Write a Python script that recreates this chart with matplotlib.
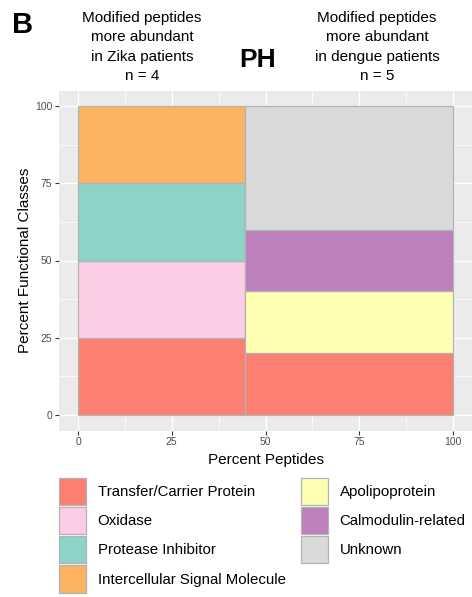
import numpy as np
import matplotlib
matplotlib.use("Agg")
import matplotlib.pyplot as plt
from matplotlib.patches import Patch

plt.rcParams['font.family'] = ['Liberation Sans', 'DejaVu Sans']

# functional classes, in stacking / legend order
classes = ["Transfer/Carrier Protein", "Oxidase", "Protease Inhibitor",
           "Intercellular Signal Molecule", "Apolipoprotein",
           "Calmodulin-related", "Unknown"]
class_colors = ["#FB8072", "#FCCDE5", "#8DD3C7", "#FDB462",
                "#FFFFB3", "#BC80BD", "#D9D9D9"]

# peptide counts per class in each group
zika_counts = [1, 1, 1, 1, 0, 0, 0]
dengue_counts = [1, 0, 0, 0, 1, 1, 2]
group_n = [4, 5]
group_titles = ["Modified peptides\nmore abundant\nin Zika patients\nn = 4",
                "Modified peptides\nmore abundant\nin dengue patients\nn = 5"]

fig = plt.figure(figsize=(4.72, 5.97), dpi=100)
ax = fig.add_axes([59.25/472, 1-430.5/597, (471.75-59.25)/472, (430.5-90.5)/597])

ax.set_facecolor("#EBEBEB")
for s in ax.spines.values():
    s.set_visible(False)

# mosaic: column width is share of peptides, stacked height is share of classes
widths = np.array(group_n) / sum(group_n) * 100
lefts = np.concatenate([[0], np.cumsum(widths)[:-1]])
for g, counts in enumerate([zika_counts, dengue_counts]):
    pct = np.array(counts) / sum(counts) * 100
    bottom = 0
    for c, p in enumerate(pct):
        if p == 0:
            continue
        ax.bar(lefts[g], p, width=widths[g], bottom=bottom, align='edge',
               color=class_colors[c], edgecolor="#B3B3B3", linewidth=0.9, zorder=3)
        bottom += p

ax.set_xlim(-5, 105)
ax.set_ylim(-5, 105)
ticks = [0, 25, 50, 75, 100]
ax.set_xticks(ticks)
ax.set_yticks(ticks)
ax.set_xticks([12.5, 37.5, 62.5, 87.5], minor=True)
ax.set_yticks([12.5, 37.5, 62.5, 87.5], minor=True)
ax.grid(which='major', color='white', linewidth=1.0, zorder=0)
ax.grid(which='minor', color='white', linewidth=0.5, zorder=0)
ax.tick_params(which='major', length=3, width=0.8, color='#333333',
               labelsize=7.5, labelcolor='#4D4D4D', pad=2)
ax.tick_params(which='minor', length=0)
ax.set_axisbelow(True)

ax.set_xlabel("Percent Peptides", fontsize=11, labelpad=4)
ax.set_ylabel("Percent Functional Classes", fontsize=11, labelpad=2)

# header texts
fig.text(12/472, 1-25/597, "B", fontsize=21, fontweight='bold', ha='left', va='center')
fig.text(258/472, 1-60/597, "PH", fontsize=19, fontweight='bold', ha='center', va='center')
fig.text(142/472, 1-47/597, group_titles[0], fontsize=11, ha='center', va='center',
         multialignment='center', linespacing=1.47)
fig.text(377/472, 1-47/597, group_titles[1], fontsize=11, ha='center', va='center',
         multialignment='center', linespacing=1.47)

handles = [Patch(facecolor=col, edgecolor="#B3B3B3", linewidth=0.9) for col in class_colors]
fig.legend(handles, classes, ncol=2, loc='upper left',
           bbox_to_anchor=(58.5/472, 1-477.5/597), frameon=False, fontsize=10.8,
           handlelength=1.86, handleheight=2.4, labelspacing=0.15,
           handletextpad=0.74, columnspacing=1.0, borderpad=0, borderaxespad=0)

fig.savefig("out.png", dpi=100)
